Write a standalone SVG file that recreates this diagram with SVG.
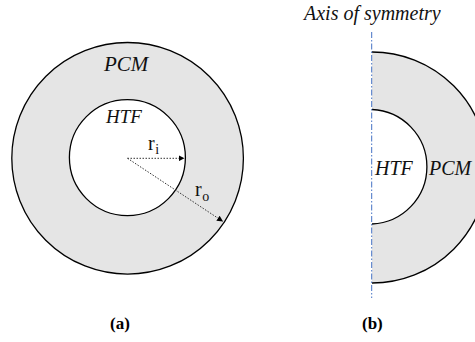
<svg xmlns="http://www.w3.org/2000/svg" width="475" height="342" viewBox="0 0 475 342">
<style>
text{font-family:'Liberation Serif','Times New Roman',serif;fill:#111}
.ring{fill:#e5e5e5;stroke:#000;stroke-width:1.3}
.hole{fill:#fff;stroke:#000;stroke-width:1.3}
.fill{fill:#e5e5e5;stroke:none}
.arc{fill:none;stroke:#000;stroke-width:1.3}
.it{font-style:italic;font-size:20px}
.r{font-size:20px}
.sub{font-size:14px}
.cap{font-weight:bold;font-size:17px;fill:#000}
.dot{fill:none;stroke:#333;stroke-width:1;stroke-dasharray:1.5 1.5}
</style>
<defs>
<marker id="ah" viewBox="0 0 10 10" refX="10" refY="5" markerWidth="6" markerHeight="6" markerUnits="userSpaceOnUse" orient="auto">
<path d="M0,0 L10,5 L0,10 z" fill="#000"/>
</marker>
</defs>
<g id="fig-a">
<circle class="ring" cx="127.6" cy="158.3" r="115.8"/>
<circle class="hole" cx="127.4" cy="157.6" r="58"/>
<text class="it" x="104" y="71" style="font-size:21px">PCM</text>
<text class="it" x="106" y="122.5" style="font-size:19px">HTF</text>
</g>
<g id="connectors">
<line class="dot" x1="127.5" y1="158.3" x2="184.5" y2="158.3" marker-end="url(#ah)"/>
<line class="dot" x1="127.5" y1="158.3" x2="223" y2="221.5" stroke="#555" marker-end="url(#ah)"/>
</g>
<g id="labels-r">
<text class="r" x="148" y="150">r<tspan class="sub" dx="0.5" dy="4">i</tspan></text>
<text class="r" x="195" y="196">r<tspan class="sub" dx="0.5" dy="4.5">o</tspan></text>
</g>
<g id="fig-b">
<path class="fill" d="M372,52 A115.5,115.5 0 0 1 372,283 Z"/>
<path class="arc" d="M372,52 A115.5,115.5 0 0 1 372,283"/>
<path class="fill" d="M372,109.5 A57.3,57.3 0 0 1 372,224 Z" style="fill:#fff"/>
<path class="arc" d="M372,109.5 A57.3,57.3 0 0 1 372,224"/>
<line x1="371.7" y1="32" x2="371.7" y2="298" stroke="#4472c4" stroke-width="1" stroke-dasharray="6 2 1.5 2"/>
<text class="it" x="375" y="175">HTF</text>
<text class="it" x="429" y="175">PCM</text>
<text class="it" x="304" y="20">Axis of symmetry</text>
</g>
<g id="captions">
<text class="cap" x="110" y="329">(a)</text>
<text class="cap" x="362" y="329">(b)</text>
</g>
</svg>
